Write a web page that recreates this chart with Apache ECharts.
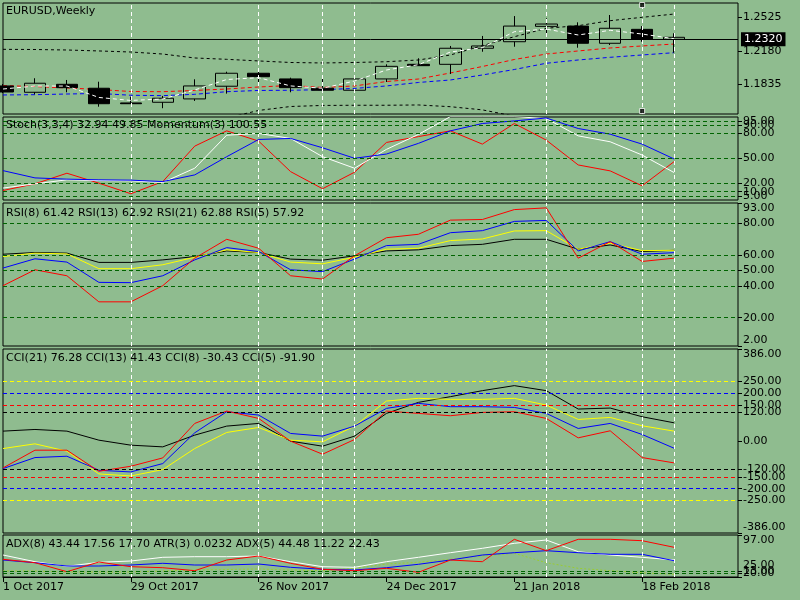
<!DOCTYPE html>
<html>
<head>
<meta charset="utf-8">
<title>EURUSD Weekly</title>
<script src="https://cdn.jsdelivr.net/npm/echarts@6.0.0/dist/echarts.min.js"></script>
<style>
html, body { margin: 0; padding: 0; background: #8fbc8f; }
#main { width: 800px; height: 600px; }
</style>
</head>
<body>
<div id="main"></div>
<script>
// weekly bars, last two categories are the empty chart shift
var weeks = ['1 Oct 2017', '8 Oct 2017', '15 Oct 2017', '22 Oct 2017', '29 Oct 2017', '5 Nov 2017',
    '12 Nov 2017', '19 Nov 2017', '26 Nov 2017', '3 Dec 2017', '10 Dec 2017', '17 Dec 2017',
    '24 Dec 2017', '31 Dec 2017', '7 Jan 2018', '14 Jan 2018', '21 Jan 2018', '28 Jan 2018',
    '4 Feb 2018', '11 Feb 2018', '18 Feb 2018', '25 Feb 2018', '4 Mar 2018', '11 Mar 2018'];

var open  = [1.1814, 1.1748, 1.1831, 1.1790, 1.1637, 1.1644, 1.1679, 1.1811, 1.1946, 1.1887, 1.1790,
    1.1769, 1.1887, 1.2039, 1.2039, 1.2206, 1.2274, 1.2434, 1.2437, 1.2258, 1.2403, 1.2299];
var close = [1.1751, 1.1842, 1.1796, 1.1629, 1.1629, 1.1686, 1.1814, 1.1946, 1.1910, 1.1796, 1.1769,
    1.1887, 1.2018, 1.2025, 1.2206, 1.2230, 1.2437, 1.2458, 1.2258, 1.2414, 1.2299, 1.2320];
var low   = [1.1741, 1.1727, 1.1748, 1.1598, 1.1626, 1.1582, 1.1658, 1.1734, 1.1824, 1.1748, 1.1767,
    1.1767, 1.1855, 1.2022, 1.1938, 1.2170, 1.2222, 1.2337, 1.2212, 1.2240, 1.2274, 1.2160];
var high  = [1.1834, 1.1894, 1.1876, 1.1858, 1.1702, 1.1710, 1.1883, 1.1962, 1.1987, 1.1900, 1.1887,
    1.1918, 1.2039, 1.2102, 1.2230, 1.2334, 1.2541, 1.2518, 1.2476, 1.2552, 1.2437, 1.2362];

var upperBand = [1.2195, 1.2193, 1.2188, 1.2178, 1.2167, 1.2146, 1.2105, 1.2091, 1.2074, 1.2058, 1.2053,
    1.2058, 1.2066, 1.2084, 1.2136, 1.2233, 1.2326, 1.2414, 1.2441, 1.2493, 1.2528, 1.2562];
var lowerBand = [null, null, null, null, null, null, null, 1.1480, 1.1559, 1.1600, 1.1611,
    1.1613, 1.1613, 1.1616, 1.1598, 1.1565, 1.1500, 1.1420, null, null, null, null];
var maRed   = [1.1817, 1.1808, 1.1793, 1.1777, 1.1756, 1.1754, 1.1767, 1.1782, 1.1803, 1.1819, 1.1798,
    1.1814, 1.1860, 1.1886, 1.1949, 1.2016, 1.2089, 1.2146, 1.2178, 1.2209, 1.2230, 1.2250];
var maBlue  = [1.1720, 1.1723, 1.1730, 1.1736, 1.1717, 1.1713, 1.1727, 1.1754, 1.1767, 1.1769, 1.1775,
    1.1788, 1.1814, 1.1850, 1.1876, 1.1928, 1.1985, 1.2050, 1.2084, 1.2112, 1.2136, 1.2160];
var maWhite = [1.1782, 1.1813, 1.1813, 1.1694, 1.1663, 1.1678, 1.1772, 1.1881, 1.1900, 1.1814, 1.1790,
    1.1865, 1.1980, 1.2035, 1.2167, 1.2212, 1.2378, 1.2406, 1.2344, 1.2393, 1.2354, 1.2305];
var bidPrice = 1.2320;
var priceTicks = [1.1835, 1.2180, 1.2525];
var handleY = [1.2656, 1.1553];

var stochRed   = [11.4, 19.4, 32.1, 20.2, 7.5, 22.1, 64.6, 82.9, 70.6, 34, 13.5, 33.3, 69, 76, 82.9,
    67, 91.7, 71.8, 42, 34.9, 17, 46];
var stochWhite = [14.3, 19.4, 24.2, 23.3, 23, 21, 38.1, 77.7, 79.8, 73.8, 51.9, 38.1, 60.7, 78.6, 100,
    100, 100, 97.6, 76.9, 69.8, 53.9, 32.9];
var stochBlue  = [35.2, 26.5, 25, 24.2, 23.8, 22.1, 30.1, 51.9, 72.6, 73.8, 62.6, 50, 55.1, 67.9, 82.9,
    91.7, 94.8, 98.3, 85.7, 78.9, 67, 49.2];
var stochLevels = [95, 90, 80, 50, 20, 10, 5];
var stochTicks = [5, 20, 50, 80, 95];
var stochTicks2 = [10, 90];

var rsiBlack  = [60.4, 61.5, 61.1, 55.2, 55.2, 56.8, 58.9, 62.5, 61.5, 57.3, 56.6, 59.4, 62.5, 63.2,
    65.9, 66.7, 69.9, 69.9, 63.6, 66.3, 62.1, 62.9];
var rsiYellow = [58.9, 61.1, 60.6, 51.2, 51.2, 53.7, 58.5, 63.2, 61.5, 55.4, 54.3, 58.5, 63.6, 64.2,
    69.1, 70.1, 75.2, 75.4, 63.6, 67.4, 62.7, 62.9];
var rsiBlue   = [51.6, 57.5, 55.4, 42.5, 42.3, 46.7, 56.8, 64.6, 62.1, 50.5, 49.3, 57.3, 65.9, 66.7,
    74.1, 75.4, 81.3, 81.9, 62.5, 68.4, 60.4, 61.4];
var rsiRed    = [40.4, 50.5, 46.7, 30.1, 30.1, 40.4, 57.9, 69.9, 64.2, 46.7, 44.6, 59.4, 70.9, 73.1,
    82.1, 82.5, 88.8, 89.9, 57.9, 68.4, 55.8, 57.9];
var rsiLevels = [80, 60, 50, 40, 20];
var rsiTicks = [2, 20, 40, 50, 60, 80, 93];

var cciBlack  = [41.4, 48.4, 41.4, 3.5, -17.5, -24.6, 24.6, 62.5, 73.7, -0.7, -21.8, 20.4, 115.8,
    162.1, 186, 211.2, 232.3, 211.2, 134, 138.2, 101.8, 76.3];
var cciYellow = [-31.6, -11.9, -42.8, -138.2, -146.7, -120, -31.6, 35.8, 56.8, 3.5, -3.5, 62.5, 167.7,
    179, 174.7, 174.7, 179, 150.9, 90.5, 98.9, 63.9, 41.4];
var cciBlue   = [-115.8, -69.5, -63.9, -122.8, -129.8, -94.7, 34.4, 122.8, 108.8, 31.6, 20.4, 62.5,
    136.8, 157.9, 143.9, 143.9, 141, 115.8, 52.6, 73.7, 27.4, -30.4];
var cciRed    = [-113, -38.6, -38.6, -127, -106, -70.9, 73.7, 125.6, 94.7, -0.7, -55.4, 6.3, 125.6,
    115.8, 106, 120, 122.8, 94.7, 13.3, 42.8, -69.5, -91.9];
var cciLevels = [250, 200, 150, 120, -120, -150, -200, -250];
var cciLevelColors = ['#ffff00', '#0000ff', '#ff0000', '#000000', '#000000', '#ff0000', '#0000ff', '#ffff00'];
var cciTicks = [-386, -250, -200, -150, -120, 0, 120, 150, 200, 250, 386];

var adxWhite  = [57, 43.6, 34.4, 42.4, 45, 52.4, 53.6, 53.6, 55, 43.6, 33.6, 32.4, 43.6, 52.4, 61.6,
    70.4, 80.4, 87, 63.6, 57, 52.4, 47];
var adxBlue   = [47, 41.6, 35, 35, 37, 40.4, 37, 37, 39, 32.4, 28.4, 27, 31.6, 38.4, 47, 57, 61.6,
    65.6, 61.6, 58.4, 58.4, 45.6];
var adxRed    = [48.4, 41.6, 23.6, 43, 33.6, 31.6, 25.6, 47, 55, 40.4, 28.4, 25.6, 30.4, 22.4, 47,
    43.6, 88.4, 65.6, 88.4, 88.4, 85.6, 72.4];
var adxGreen  = [25, 25, 23, 23, 23, 25, 27, 28, 29, 27, 25.6, 30.4, 39, 42.4, 48.4, 55, 60.4, 41.6,
    30.4, 25.6, 21.6, 18.4];
var adxLevels = [25, 20];
var adxTicks = [25, 97];
var adxTicks2 = [20];
var adxTicks3 = [13];

// week indexes carrying the white vertical lines
var vLineIdx = [4, 8, 10, 11, 17, 20, 21];

var panelTitles = [
    'EURUSD,Weekly',
    'Stoch(3,3,4) 32.94 49.85 Momentum(3) 100.55',
    'RSI(8) 61.42 RSI(13) 62.92 RSI(21) 62.88 RSI(5) 57.92',
    'CCI(21) 76.28 CCI(13) 41.43 CCI(8) -30.43 CCI(5) -91.90',
    'ADX(8) 43.44 17.56 17.70 ATR(3) 0.0232 ADX(5) 44.48 11.22 22.43'
];

var FONT = 'DejaVu Sans';
var DASH = [4, 3];
var LEVEL_GREEN = '#006400';

var panels = [
    { top: 3, height: 111, titleTop: 6 },
    { top: 117, height: 83, titleTop: 120 },
    { top: 203, height: 143, titleTop: 208 },
    { top: 349, height: 184, titleTop: 353 },
    { top: 535, height: 42, titleTop: 539 }
];

function vLines() {
    return vLineIdx.map(function (i) {
        return { xAxis: weeks[i], lineStyle: { color: '#ffffff', type: DASH, width: 1 } };
    });
}

function levelLines(levels, colors) {
    return levels.map(function (v, k) {
        return { yAxis: v, lineStyle: { color: colors ? colors[k] : LEVEL_GREEN, type: DASH, width: 1 } };
    });
}

function marks(data) {
    return {
        silent: true,
        symbol: ['none', 'none'],
        label: { show: false },
        data: data
    };
}

function line(grid, data, color, dash, extra) {
    var s = {
        type: 'line',
        xAxisIndex: grid,
        yAxisIndex: grid,
        data: data,
        symbol: 'none',
        clip: true,
        lineStyle: { color: color, width: 1, type: dash || 'solid' },
        z: 3
    };
    for (var k in extra) s[k] = extra[k];
    return s;
}

function yAx(grid, min, max, ticks, digits, edgeAlign) {
    var lab = {
        customValues: ticks,
        formatter: function (v) { return v.toFixed(digits); },
        color: '#000',
        fontSize: 11,
        fontFamily: FONT,
        margin: 5,
        showMinLabel: true,
        showMaxLabel: true,
        hideOverlap: false
    };
    if (edgeAlign) {
        lab.verticalAlignMinLabel = 'bottom';
        lab.verticalAlignMaxLabel = 'top';
    }
    return {
        type: 'value',
        gridIndex: grid,
        position: 'right',
        min: min,
        max: max,
        splitLine: { show: false },
        axisLine: { show: false },
        axisTick: { show: true, customValues: ticks, length: 4, lineStyle: { color: '#000' } },
        axisLabel: lab
    };
}

var everyFourth = function (i) { return i % 4 === 0; };

var xAxes = panels.map(function (p, g) {
    var last = g === panels.length - 1;
    return {
        type: 'category',
        gridIndex: g,
        data: weeks,
        boundaryGap: false,
        show: last,
        axisLine: { show: last, lineStyle: { color: '#000' } },
        axisTick: { show: last, interval: everyFourth, length: 5, lineStyle: { color: '#000' } },
        axisLabel: { show: last, interval: everyFourth, align: 'left', color: '#000',
            fontSize: 11, fontFamily: FONT, margin: 5 },
        splitLine: { show: false }
    };
});

var candles = open.map(function (o, i) { return [o, close[i], low[i], high[i]]; });

var priceMarks = vLines().concat([{
    yAxis: bidPrice,
    lineStyle: { color: '#000', type: 'solid', width: 1 },
    label: {
        show: true, position: 'end', distance: 3,
        formatter: function () { return bidPrice.toFixed(4); },
        color: '#fff', backgroundColor: '#000', padding: [2, 3, 1, 3],
        fontSize: 11, fontFamily: FONT
    }
}]);

var myChart = echarts.init(document.getElementById('main'));

var option = {
    backgroundColor: '#8fbc8f',
    animation: false,
    title: panels.map(function (p, g) {
        return {
            text: panelTitles[g], left: 6, top: p.titleTop, padding: 0,
            textStyle: { color: '#000', fontSize: 11, fontWeight: 'normal', fontFamily: FONT }
        };
    }),
    grid: panels.map(function (p) {
        return { left: 3, right: 62, top: p.top, height: p.height, show: true,
            borderColor: '#000', borderWidth: 1, backgroundColor: 'transparent' };
    }),
    xAxis: xAxes,
    yAxis: [
        yAx(0, 1.1522, 1.2677, priceTicks, 4, false),
        yAx(1, 0, 99.5, stochTicks, 2, false),
        yAx(2, 2, 93, rsiTicks, 2, true),
        yAx(3, -386, 386, cciTicks, 2, true),
        yAx(4, 13, 97, adxTicks, 2, true),
        // extra label sets so the crowded level labels overlap as on the terminal
        yAx(1, 0, 99.5, stochTicks2, 2, false),
        yAx(4, 13, 97, adxTicks2, 2, false),
        yAx(4, 13, 97, adxTicks3, 2, true)
    ],
    series: [
        // price panel
        line(0, upperBand, '#000', [3, 3], { markLine: marks(priceMarks), z: 2 }),
        line(0, lowerBand, '#000', [3, 3], { z: 2 }),
        line(0, maRed, '#ff0000', DASH, { z: 2 }),
        line(0, maBlue, '#0000ff', DASH, { z: 2 }),
        {
            type: 'candlestick',
            xAxisIndex: 0,
            yAxisIndex: 0,
            data: candles,
            barWidth: 22,
            clip: true,
            z: 3,
            itemStyle: {
                color: 'rgba(0,0,0,0)', color0: '#000',
                borderColor: '#000', borderColor0: '#000', borderColorDoji: '#000', borderWidth: 1
            }
        },
        line(0, maWhite, '#ffffff', DASH, { z: 4 }),
        {
            type: 'scatter',
            xAxisIndex: 0,
            yAxisIndex: 0,
            data: handleY.map(function (v) { return [weeks[20], v]; }),
            symbol: 'rect',
            symbolSize: 5,
            z: 6,
            itemStyle: { color: '#000', borderColor: '#fff', borderWidth: 1 }
        },

        // stochastic / momentum
        line(1, stochRed, '#ff0000', null, { markLine: marks(vLines().concat(levelLines(stochLevels))) }),
        line(1, stochWhite, '#ffffff'),
        line(1, stochBlue, '#0000ff'),

        // RSI
        line(2, rsiBlack, '#000000', null, { markLine: marks(vLines().concat(levelLines(rsiLevels))) }),
        line(2, rsiYellow, '#ffff00'),
        line(2, rsiBlue, '#0000ff'),
        line(2, rsiRed, '#ff0000'),

        // CCI
        line(3, cciBlack, '#000000', null, { markLine: marks(vLines().concat(levelLines(cciLevels, cciLevelColors))) }),
        line(3, cciYellow, '#ffff00'),
        line(3, cciBlue, '#0000ff'),
        line(3, cciRed, '#ff0000'),

        // ADX / ATR
        line(4, adxGreen, '#9acd32', [2, 2], { markLine: marks(vLines().concat(levelLines(adxLevels))) }),
        line(4, adxWhite, '#ffffff'),
        line(4, adxBlue, '#0000ff'),
        line(4, adxRed, '#ff0000')
    ]
};

myChart.setOption(option);
</script>
</body>
</html>
